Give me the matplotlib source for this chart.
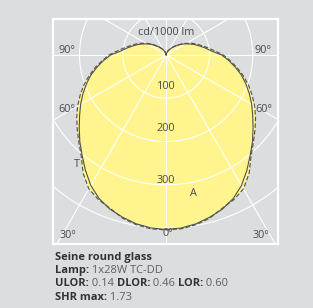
import numpy as np
import matplotlib
matplotlib.use("Agg")
import matplotlib.pyplot as plt

# luminous intensity, cd/1000 lm, every 5 deg from nadir (0) to zenith (180)
angles = list(range(0, 181, 5))
curve_a = [403, 401, 396, 388, 379, 366, 348, 325, 302, 282, 262, 244, 228, 212, 196,
           180, 162, 145, 128, 105, 92, 80, 70, 60, 51, 43, 35, 28, 23, 18, 14, 10, 7,
           4, 2, 1, 0]
curve_t = [404, 403, 398, 390, 377, 369, 357, 334, 305, 285, 268, 252, 236, 219, 202,
           184, 166, 148, 132, 112, 97, 84, 74, 64, 54, 45, 36, 29, 23, 18, 14, 10, 7,
           4, 2, 1, 0]
rings = [100, 200, 300, 400]
ring_labels = ["100", "200", "300"]
spokes = list(range(0, 360, 30))

name = "Seine round glass"
info = [("Lamp:", " 1x28W TC-DD"),
        ("ULOR:", " 0.14 ", "DLOR:", " 0.46 ", "LOR:", " 0.60"),
        ("SHR max:", " 1.73")]

bg = "#dcdddf"
yellow = "#fff48e"
ink = "#4a4a4a"
plt.rcParams["font.family"] = ["Open Sans", "DejaVu Sans"]

fig = plt.figure(figsize=(3.13, 3.08), dpi=100, facecolor=bg)
ax = fig.add_axes([53 / 313, 1 - 244 / 308, 225 / 313, 225 / 308])
ax.set_facecolor(bg)
ax.set_xlim(-261, 258)
ax.set_ylim(-436.5, 83)
ax.set_aspect("equal")
ax.set_xticks([])
ax.set_yticks([])
for s in ax.spines.values():
    s.set_color("white")
    s.set_linewidth(1.6)


def to_xy(vals):
    th = np.deg2rad(np.array(angles, dtype=float))
    r = np.array(vals, dtype=float)
    th_full = np.concatenate([-th[::-1], th[1:]])
    r_full = np.concatenate([r[::-1], r[1:]])
    return r_full * np.sin(th_full), -r_full * np.cos(th_full)


xa, ya = to_xy(curve_a)
xt, yt = to_xy(curve_t)
ax.fill(xt, yt, color=yellow, lw=0, zorder=1)
ax.fill(xa, ya, color=yellow, lw=0, zorder=1)

# grid
phi = np.linspace(0, 2 * np.pi, 400)
for rr in rings:
    ax.plot(rr * np.cos(phi), rr * np.sin(phi), color="white", lw=0.8, zorder=2)
for sp in spokes:
    a = np.deg2rad(sp)
    ax.plot([0, 700 * np.sin(a)], [0, -700 * np.cos(a)], color="white", lw=0.8, zorder=2)

ax.plot(xa, ya, color="#505050", lw=0.8, zorder=3)
ax.plot(xt, yt, color="#505050", lw=0.8, ls=(0, (4, 2)), zorder=3)

fs = 7.8
ax.text(0, 51, "cd/1000 lm", ha="center", va="center", fontsize=fs, color=ink, zorder=4)
for lab, x, y in [("90°", -230, 10), ("90°", 224, 10), ("60°", -230, -125),
                  ("60°", 225, -125), ("30°", -226, -416), ("30°", 218, -416),
                  ("0°", 3, -412)]:
    ax.text(x, y, lab, ha="center", va="center", fontsize=fs, color=ink, zorder=4)
for lab, y in zip(ring_labels, [-72, -169, -289]):
    ax.text(0, y, lab, ha="center", va="center", fontsize=fs, color=ink, zorder=4)
ax.text(-207, -252, "T", ha="center", va="center", fontsize=fs, color=ink, zorder=4)
ax.text(62, -319, "A", ha="center", va="center", fontsize=fs, color=ink, zorder=4)

# caption under the diagram
fs2 = 8.0
x0 = 55 / 313
fig.text(x0, 1 - 260 / 308, name, fontsize=fs2, fontweight="bold", color="#333333",
         va="baseline")
for i, parts in enumerate(info):
    y = 1 - (273 + 13.5 * i) / 308
    prev = fig.text(x0, y, parts[0], fontsize=fs2, fontweight="bold", color="#333333",
                    va="baseline")
    for j, p in enumerate(parts[1:], start=1):
        bold = j % 2 == 0
        prev = ax.annotate(p, xy=(1, 0), xycoords=prev, va="bottom", ha="left",
                           fontsize=fs2, annotation_clip=False,
                           color="#333333" if bold else "#5f5f5f",
                           fontweight="bold" if bold else "normal")

fig.savefig("out.png", dpi=100, facecolor=bg)
